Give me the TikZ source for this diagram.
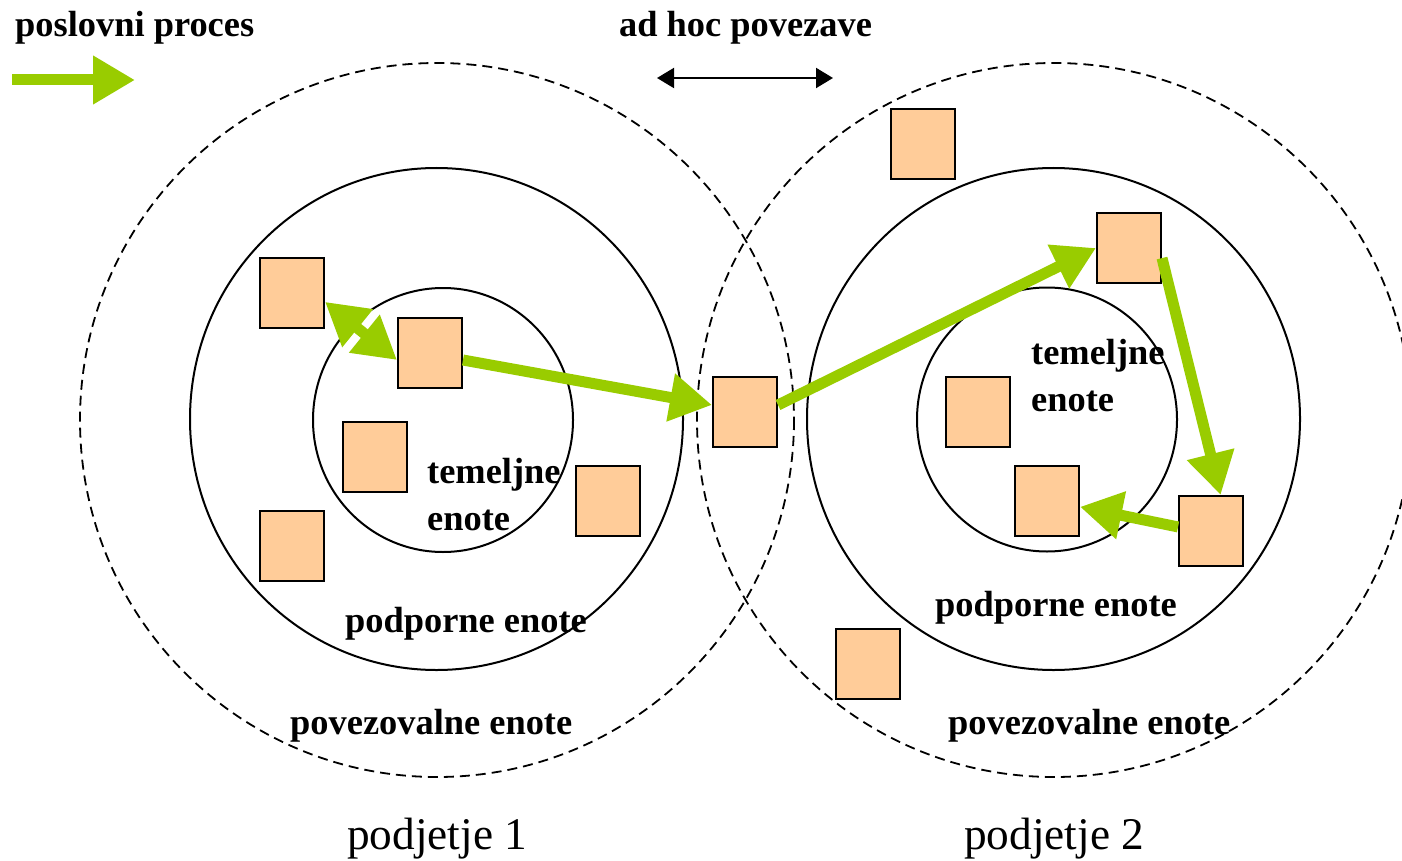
\documentclass[tikz,border=0pt]{standalone}
\usepackage{fontspec}
\setmainfont{Liberation Serif}
\usetikzlibrary{arrows.meta}
\definecolor{procgreen}{HTML}{99CC00}
\definecolor{unitfill}{HTML}{FFCC99}
\tikzset{
  unit/.style={draw=black, line width=2pt, fill=unitfill, inner sep=0pt,
               minimum width=64pt, minimum height=70pt},
  proc/.style={draw=procgreen, line width=11pt,
               -{Triangle[length=42pt,width=46pt]}},
  proc2/.style={draw=procgreen, line width=11pt,
               {Triangle[length=42pt,width=46pt]}-{Triangle[length=42pt,width=46pt]}},
  adhoc/.style={draw=black, line width=2pt,
               {Triangle[length=17pt,width=20pt]}-{Triangle[length=17pt,width=20pt]}},
  zone/.style={draw=black, line width=2pt},
  reach/.style={draw=black, line width=1.8pt, dash pattern=on 10pt off 6pt},
  lbl/.style={anchor=base west, inner sep=0pt,
              font=\fontsize{36.4}{44}\selectfont\bfseries},
  firm/.style={anchor=base west, inner sep=0pt,
               font=\fontsize{45.3}{54}\selectfont}
}
\begin{document}
\begin{tikzpicture}[x=1pt, y=-1pt]
  \useasboundingbox (0,0) rectangle (1402,861);
  \clip (0,0) rectangle (1402,861);

  % outer reach of each company (dashed)
  \draw[reach] (437,420) circle[radius=357];
  \draw[reach] (1054,420) circle[radius=357];

  % support and core rings
  \draw[zone] (436.5,419) ellipse[x radius=246.5, y radius=251];
  \draw[zone] (443,420) ellipse[x radius=130, y radius=132];
  \draw[zone] (1053.5,419) ellipse[x radius=246.5, y radius=251];
  \draw[zone] (1047,419.5) ellipse[x radius=130, y radius=132];

  % units
  \node[unit] (s1) at (292,293) {};
  \node[unit] (s2) at (430,353) {};
  \node[unit] (s3) at (375,457) {};
  \node[unit] (s4) at (292,546) {};
  \node[unit] (s5) at (608,501) {};
  \node[unit] (c)  at (745,412) {};
  \node[unit] (r1) at (923,144) {};
  \node[unit] (r2) at (1129,248) {};
  \node[unit] (r3) at (978,412) {};
  \node[unit] (r4) at (1047,501) {};
  \node[unit] (r5) at (1211,531) {};
  \node[unit] (r6) at (868,664) {};

  % business process flow
  \draw[proc2] (s1.-15) -- (s2.192);
  \draw[proc] (s2.-12) -- (c.168);
  \draw[proc] (c.12) -- (r2.west);
  \draw[proc] (r2.-17) -- (r5.75);
  \draw[proc] (r5.173) -- (r4.-10);

  % legend
  \node[lbl] (lgp) at (15,37) {poslovni proces};
  \coordinate (lpa) at (12,80);
  \coordinate (lpb) at (135,80);
  \draw[proc] (lpa) -- (lpb);

  \node[lbl] (lga) at (619,37) {ad hoc povezave};
  \coordinate (laa) at (657,78);
  \coordinate (lab) at (833,78);
  \draw[adhoc] (laa) -- (lab);

  % ring labels
  \node[lbl] (t1a) at (427,483) {temeljne};
  \node[lbl] (t1b) at (427,530) {enote};
  \node[lbl] (p1)  at (345,632) {podporne enote};
  \node[lbl] (v1)  at (290,734) {povezovalne enote};

  \node[lbl] (t2a) at (1031,364) {temeljne};
  \node[lbl] (t2b) at (1031,411) {enote};
  \node[lbl] (p2)  at (935,616) {podporne enote};
  \node[lbl] (v2)  at (948,734) {povezovalne enote};

  % company names
  \node[firm] (f1) at (347,849) {podjetje 1};
  \node[firm] (f2) at (964,849) {podjetje 2};
\end{tikzpicture}
\end{document}
